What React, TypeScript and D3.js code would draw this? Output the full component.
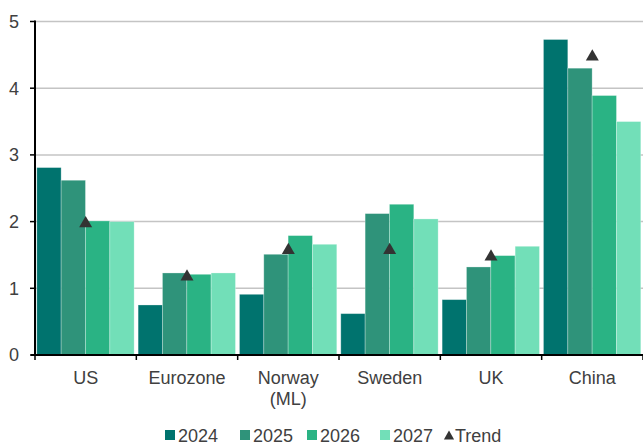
import React from "react";
import * as d3 from "d3";

// Forecast growth by economy and year, with trend marker
const categories = ["US", "Eurozone", "Norway (ML)", "Sweden", "UK", "China"];
const categoryLines = [["US"], ["Eurozone"], ["Norway", "(ML)"], ["Sweden"], ["UK"], ["China"]];
const years = ["2024", "2025", "2026", "2027"];
const v2024 = [2.81, 0.75, 0.91, 0.62, 0.83, 4.73];
const v2025 = [2.62, 1.23, 1.51, 2.12, 1.32, 4.3];
const v2026 = [2.01, 1.21, 1.79, 2.26, 1.49, 3.89];
const v2027 = [2.0, 1.23, 1.66, 2.04, 1.63, 3.5];
const trend = [2.0, 1.2, 1.6, 1.6, 1.5, 4.5];
const yTicks = [0, 1, 2, 3, 4, 5];

const series = [v2024, v2025, v2026, v2027];
const colors = ["#00736e", "#2f937a", "#2ab384", "#72dfb8"];

const W = 643;
const H = 444;
const font = "'Liberation Sans', Arial, sans-serif";
const textColor = "#404040";

export default function App() {
  const x0 = d3.scaleBand<string>().domain(categories).range([35, 643]).padding(0);
  const x1 = d3
    .scaleBand<string>()
    .domain(years)
    .range([1.8, x0.bandwidth() - 2.2])
    .padding(0);
  const y = d3.scaleLinear().domain([0, 5]).range([355, 21.5]);

  // triangle marker, offset so its bounding box is centred on the value
  const triSize = 73;
  const triPath = d3.symbol(d3.symbolTriangle, triSize)()!;
  const triOffset = Math.sqrt(triSize / (3 * Math.sqrt(3))) / 2;
  const legTriSize = 45;
  const legTriPath = d3.symbol(d3.symbolTriangle, legTriSize)()!;
  const legTriOffset = Math.sqrt(legTriSize / (3 * Math.sqrt(3))) / 2;

  const boundaries = [...categories.map((c) => x0(c)!), 643];

  const legendItems = [
    { label: "2024", x: 165, color: colors[0] },
    { label: "2025", x: 240, color: colors[1] },
    { label: "2026", x: 307, color: colors[2] },
    { label: "2027", x: 380, color: colors[3] },
  ];

  return (
    <svg
      width={W}
      height={H}
      style={{ position: "absolute", left: 0, top: 0, background: "#fff" }}
      fontFamily={font}
    >
      {/* gridlines */}
      {yTicks
        .filter((t) => t > 0)
        .map((t) => (
          <line key={t} x1={35} x2={643} y1={y(t)} y2={y(t)} stroke="#c4c4c4" strokeWidth={1.5} />
        ))}

      {/* bars */}
      {categories.map((c, ci) => (
        <g key={c} transform={`translate(${x0(c)},0)`}>
          {series.map((s, si) => (
            <rect
              key={si}
              x={x1(years[si])}
              y={y(s[ci])}
              width={x1.bandwidth()}
              height={y(0) - y(s[ci])}
              fill={colors[si]}
              stroke="rgba(255,255,255,0.35)"
              strokeWidth={0.8}
            />
          ))}
        </g>
      ))}

      {/* trend markers */}
      {categories.map((c, ci) => (
        <path
          key={c}
          d={triPath}
          fill="#333"
          transform={`translate(${x0(c)! + x0.bandwidth() / 2},${y(trend[ci]) + triOffset})`}
        />
      ))}

      {/* y axis */}
      <line x1={35} x2={35} y1={20.5} y2={356} stroke="#000" strokeWidth={2} />
      {yTicks.map((t) => (
        <g key={t}>
          <line x1={30} x2={35} y1={y(t)} y2={y(t)} stroke="#000" strokeWidth={1.5} />
          <text
            x={19}
            y={y(t)}
            dy="0.35em"
            textAnchor="end"
            fontSize={18}
            fill={textColor}
          >
            {t}
          </text>
        </g>
      ))}

      {/* x axis */}
      <line x1={31} x2={643} y1={355} y2={355} stroke="#000" strokeWidth={2} />
      {boundaries.map((b, i) => (
        <line key={i} x1={b} x2={b} y1={355} y2={360} stroke="#000" strokeWidth={1.5} />
      ))}
      {categoryLines.map((lines, ci) => (
        <text
          key={ci}
          x={x0(categories[ci])! + x0.bandwidth() / 2}
          y={384}
          textAnchor="middle"
          fontSize={18}
          fill={textColor}
        >
          {lines.map((ln, li) => (
            <tspan key={li} x={x0(categories[ci])! + x0.bandwidth() / 2} dy={li === 0 ? 0 : 21}>
              {ln}
            </tspan>
          ))}
        </text>
      ))}

      {/* legend */}
      {legendItems.map((it) => (
        <g key={it.label}>
          <rect x={it.x} y={430} width={10} height={10} fill={it.color} />
          <text x={it.x + 13} y={441.5} fontSize={18} fill={textColor}>
            {it.label}
          </text>
        </g>
      ))}
      <path d={legTriPath} fill="#333" transform={`translate(449,${435 + legTriOffset})`} />
      <text x={455} y={441.5} fontSize={18} fill={textColor}>
        Trend
      </text>
    </svg>
  );
}
